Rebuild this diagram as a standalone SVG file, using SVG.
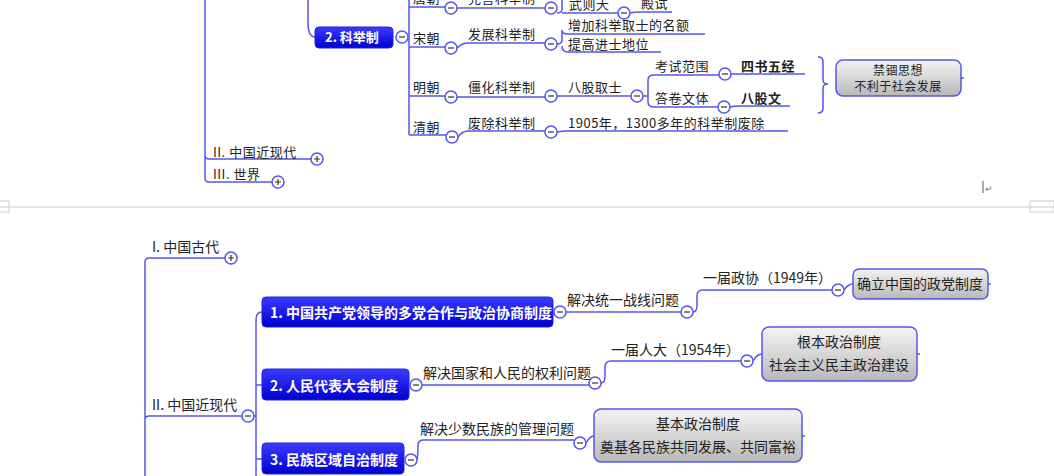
<svg xmlns="http://www.w3.org/2000/svg" width="1054" height="476" viewBox="0 0 1054 476">
<defs>
<linearGradient id="gb" x1="0" y1="0" x2="0" y2="1"><stop offset="0" stop-color="#3b3bff"/><stop offset="1" stop-color="#0000d0"/></linearGradient>
<linearGradient id="gg" x1="0" y1="0" x2="0" y2="1"><stop offset="0" stop-color="#f4f4f4"/><stop offset="1" stop-color="#b8b8b8"/></linearGradient>
</defs>
<style>
text{font-family:"Noto Sans CJK SC","Liberation Sans",sans-serif;font-size:13px;fill:#222;letter-spacing:0.5px}
.b{font-size:14px;letter-spacing:0}
.w{fill:#fff;font-weight:bold;font-size:14px;letter-spacing:0}
.bold{font-weight:bold}
.l{fill:none;stroke:#5555ee;stroke-width:1.5}
.c{fill:#fff;stroke:#5555ee;stroke-width:1.5}
.cs{stroke:#333;stroke-width:1.2}
.bn{fill:url(#gb);stroke:#2222dd}
.gn{fill:url(#gg);stroke:#5555ee;stroke-width:1.5}
</style>
<rect width="1054" height="476" fill="#fff"/>
<g id="connectors">
<path class="l" d="M205 0 V178 Q205 182 209 182 H272 M205 155 Q205 159 209 159 H311"/>
<path class="l" d="M308 0 V22 Q308 37 315 37"/>
<path class="l" d="M409 0 V135 M409 7 H445 M409 47 H445 M409 96 H445 M409 135 H446"/>
<path class="l" d="M457 8 H545 M457 48 Q462 43 468 43 H545 M457 97 H545 M458 137 Q462 131 468 131 H545"/>
<path class="l" d="M557 13 Q562 13 562 9 V0 M557 44 Q562 44 562 40 V30 Q562 34 568 34 H705 M562 46 Q562 52 568 52 H661"/>
<path class="l" d="M562 13 Q562 13 568 13 H618 M630 13 Q634 12 640 12 H672"/>
<path class="l" d="M557 96 H631 M643 96 H648 V80 Q648 75 654 75 H719 M648 96 V102 Q648 107 654 107 H718 M731 74 H805 M730 107 Q734 106 740 106 H790"/>
<path class="l" d="M557 132 Q562 131 568 131 H788"/>
<path class="l" d="M818 57 Q823 57 823 62 V80 Q823 84 828 84 Q823 84 823 88 V108 Q823 113 818 113 M961 78 h3"/>
<path class="l" d="M145 476 V262 Q145 258 149 258 H225 M145 420 Q145 416 149 416 H242"/>
<path class="l" d="M254 416 H256 M256 476 V320 Q256 312 262 312 M256 385 H262 M256 459 H262"/>
<path class="l" d="M566 312 H681 M693 312 Q697 312 697 305 V296 Q697 290 703 290 H832 M844 290 Q848 284 853 284"/>
<path class="l" d="M422 385 H589 M601 383 Q605 383 605 376 V367 Q605 361 611 361 H741 M753 361 Q757 354 762 354"/>
<path class="l" d="M417 460 Q418 454 418 447 V445 Q418 440 424 440 H574 M586 443 Q590 436 594 436 M988 284 h3 M917 354 h3 M802 436 h3"/>
</g>
<g id="top">
<text x="213" y="157">II. 中国近现代</text>
<circle class="c" cx="317" cy="159" r="6"/><path class="cs" d="M314 159h6M317 156v6"/>
<text x="213" y="179">III. 世界</text>
<circle class="c" cx="278" cy="182" r="6"/><path class="cs" d="M275 182h6M278 179v6"/>
<rect class="bn" x="315" y="27" width="78" height="21" rx="4"/>
<text class="w" x="325" y="42" style="font-size:13px">2. 科举制</text>
<circle class="c" cx="402" cy="37" r="6"/><path class="cs" d="M399 37h6"/>
<text x="413" y="3">唐朝</text><text x="413" y="43">宋朝</text><text x="413" y="92">明朝</text><text x="413" y="132">清朝</text>
<text x="468" y="3">完善科举制</text><text x="468" y="39">发展科举制</text><text x="468" y="92">僵化科举制</text><text x="468" y="128">废除科举制</text>
<g><circle class="c" cx="451" cy="8" r="6"/><path class="cs" d="M448 8h6"/>
<circle class="c" cx="451" cy="48" r="6"/><path class="cs" d="M448 48h6"/>
<circle class="c" cx="451" cy="97" r="6"/><path class="cs" d="M448 97h6"/>
<circle class="c" cx="452" cy="137" r="6"/><path class="cs" d="M449 137h6"/>
<circle class="c" cx="551" cy="8" r="6"/><path class="cs" d="M548 8h6"/>
<circle class="c" cx="551" cy="44" r="6"/><path class="cs" d="M548 44h6"/>
<circle class="c" cx="551" cy="96" r="6"/><path class="cs" d="M548 96h6"/>
<circle class="c" cx="551" cy="132" r="6"/><path class="cs" d="M548 132h6"/>
<circle class="c" cx="624" cy="13" r="6"/><path class="cs" d="M621 13h6"/>
<circle class="c" cx="637" cy="96" r="6"/><path class="cs" d="M634 96h6"/>
<circle class="c" cx="725" cy="74" r="6"/><path class="cs" d="M722 74h6"/>
<circle class="c" cx="724" cy="107" r="6"/><path class="cs" d="M721 107h6"/></g>
<text x="569" y="9">武则天</text><text x="641" y="8">殿试</text>
<text x="568" y="30">增加科举取士的名额</text><text x="568" y="49">提高进士地位</text>
<text x="568" y="92">八股取士</text>
<text x="655" y="71">考试范围</text><text x="655" y="103">答卷文体</text>
<text class="bold" x="741" y="71">四书五经</text><text class="bold" x="741" y="103">八股文</text>
<text x="568" y="128">1905年，1300多年的科举制废除</text>
</g>
<g id="box-jingu">
<rect class="gn" x="836" y="60" width="125" height="36" rx="7"/>
<text x="898" y="75" text-anchor="middle" style="font-size:12px">禁锢思想</text>
<text x="898" y="91" text-anchor="middle" style="font-size:12px">不利于社会发展</text>
</g>
<g id="page-break">
<path d="M0 207 H1054" stroke="#ccc" stroke-width="1"/>
<rect x="1030" y="201" width="24" height="11" fill="none" stroke="#ccc"/>
<rect x="-1" y="201" width="10" height="11" fill="none" stroke="#ccc"/>
<path d="M983 181 v12" stroke="#555"/><text x="985" y="192" style="font-size:9px;fill:#777">↵</text>
</g>
<g id="bottom">
<text class="b" x="152" y="252">I. 中国古代</text>
<circle class="c" cx="231" cy="258" r="6"/><path class="cs" d="M228 258h6M231 255v6"/>
<text class="b" x="152" y="410">II. 中国近现代</text>
<circle class="c" cx="248" cy="416" r="6"/><path class="cs" d="M245 416h6"/>
</g>
<g id="n1">
<rect class="bn" x="262" y="297" width="291" height="30" rx="4"/>
<text class="w" x="270" y="318">1. 中国共产党领导的多党合作与政治协商制度</text>
<circle class="c" cx="560" cy="312" r="6"/><path class="cs" d="M557 312h6"/>
</g>
<g id="n2">
<rect class="bn" x="262" y="369" width="147" height="31" rx="4"/>
<text class="w" x="270" y="391">2. 人民代表大会制度</text>
<circle class="c" cx="416" cy="385" r="6"/><path class="cs" d="M413 385h6"/>
</g>
<g id="n3">
<rect class="bn" x="262" y="443" width="142" height="31" rx="4"/>
<text class="w" x="270" y="465">3. 民族区域自治制度</text>
<circle class="c" cx="411" cy="460" r="6"/><path class="cs" d="M408 460h6"/>
</g>
<g id="labels-bottom">
<text class="b" x="567" y="305">解决统一战线问题</text>
<circle class="c" cx="687" cy="312" r="6"/><path class="cs" d="M684 312h6"/>
<text class="b" x="703" y="283">一届政协（1949年）</text>
<circle class="c" cx="838" cy="290" r="6"/><path class="cs" d="M835 290h6"/>
<text class="b" x="423" y="378">解决国家和人民的权利问题</text>
<circle class="c" cx="595" cy="383" r="6"/><path class="cs" d="M592 383h6"/>
<text class="b" x="611" y="355">一届人大（1954年）</text>
<circle class="c" cx="747" cy="361" r="6"/><path class="cs" d="M744 361h6"/>
<text class="b" x="420" y="434">解决少数民族的管理问题</text>
<circle class="c" cx="580" cy="443" r="6"/><path class="cs" d="M577 443h6"/>
</g>
<g id="box-zhengdang">
<rect class="gn" x="853" y="269" width="135" height="30" rx="6"/>
<text class="b" x="920" y="289" text-anchor="middle">确立中国的政党制度</text>
</g>
<g id="box-genben">
<rect class="gn" x="762" y="327" width="155" height="54" rx="7"/>
<text class="b" x="839" y="347" text-anchor="middle">根本政治制度</text>
<text class="b" x="839" y="370" text-anchor="middle">社会主义民主政治建设</text>
</g>
<g id="box-jiben">
<rect class="gn" x="594" y="409" width="208" height="53" rx="7"/>
<text class="b" x="698" y="429" text-anchor="middle">基本政治制度</text>
<text class="b" x="698" y="452" text-anchor="middle">奠基各民族共同发展、共同富裕</text>
</g>
</svg>
